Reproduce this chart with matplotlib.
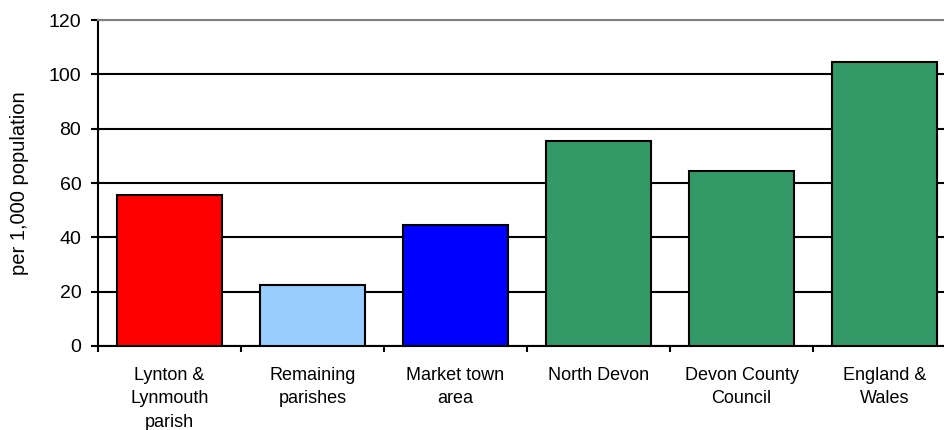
import numpy as np
import matplotlib
matplotlib.use("Agg")
import matplotlib.pyplot as plt

categories = ["Lynton &\nLynmouth\nparish", "Remaining\nparishes", "Market town\narea",
              "North Devon", "Devon County\nCouncil", "England &\nWales"]
values = [55.5, 22.5, 44.5, 75.5, 64.5, 104.5]
colors = ["#FF0000", "#99CCFF", "#0000FF", "#339966", "#339966", "#339966"]

plt.rcParams['font.family'] = ['Liberation Sans', 'DejaVu Sans']

fig = plt.figure(figsize=(9.44, 4.3), dpi=100)
ax = fig.add_axes([98 / 944, 84 / 430, 858 / 944, 326 / 430])

x = np.arange(len(categories)) + 0.5
ax.bar(x, values, width=0.73, color=colors, edgecolor='black', linewidth=1.5, zorder=3)

ax.set_xlim(0, len(categories))
ax.set_ylim(0, 120)
ax.set_yticks(np.arange(0, 121, 20))
ax.yaxis.grid(True, color='black', linewidth=1.5, zorder=0)
ax.set_axisbelow(True)

# category labels between the boundary ticks
ax.set_xticks(np.arange(len(categories) + 1))
ax.set_xticklabels([])
ax.set_xticks(x, minor=True)
ax.set_xticklabels(categories, minor=True, fontsize=13, linespacing=1.5)
ax.tick_params(axis='x', which='minor', length=0, pad=15)
ax.tick_params(axis='x', which='major', length=4.5, width=1.5, direction='out')
ax.tick_params(axis='y', length=5, width=1.5, direction='out', labelsize=14, pad=7)

ax.spines['right'].set_visible(False)
ax.spines['top'].set_color('#808080')
ax.spines['top'].set_linewidth(1.5)
ax.spines['left'].set_linewidth(1.5)
ax.spines['bottom'].set_linewidth(1.5)

ax.set_ylabel("per 1,000 population", fontsize=14.5)
ax.yaxis.set_label_coords(-0.08, 0.5)

fig.savefig("out.png", dpi=100)
